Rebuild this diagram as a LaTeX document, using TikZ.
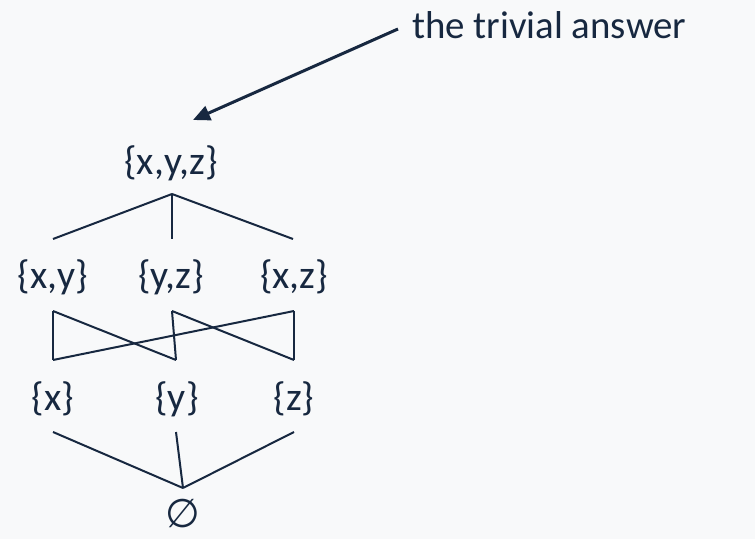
\documentclass[tikz,border=0pt]{standalone}
\usepackage{fontspec}
\setmainfont{Carlito}
\newfontfamily\symfont{DejaVu Sans}
\usetikzlibrary{arrows.meta}
\definecolor{ink}{RGB}{23,40,64}
\definecolor{bg}{RGB}{248,249,250}
\begin{document}
\begin{tikzpicture}[x=1bp,y=-1bp,
  lbl/.style={inner sep=0pt, text=ink, font=\fontsize{40}{46}\selectfont},
  edge/.style={draw=ink, line width=2bp}]
\fill[bg] (0,0) rectangle (755,539);
\useasboundingbox (0,0) rectangle (755,539);
% labels
\node[lbl, anchor=base west, font=\fontsize{39}{46}\selectfont] (note) at (412,39) {the trivial answer};
\node[lbl] (xyz) at (171,163) {\{x,y,z\}};
\node[lbl] (xy) at (53,277) {\{x,y\}};
\node[lbl] (yz) at (171,277) {\{y,z\}};
\node[lbl] (xz) at (294,277) {\{x,z\}};
\node[lbl] (x) at (53,399) {\{x\}};
\node[lbl] (y) at (177,399) {\{y\}};
\node[lbl] (z) at (294,399) {\{z\}};
\node[lbl, font=\symfont\fontsize{40}{46}\selectfont, text height=0.74em, text depth=0.06em] (e) at (183,524) {∅};
% connector ends
\coordinate (arrS) at (398,29);
\coordinate (arrT) at (193,120);
\coordinate (t0) at (172,194);
\coordinate (t1) at (53,239);
\coordinate (t2) at (172,239);
\coordinate (t3) at (293,239);
\coordinate (a1) at (53,311);
\coordinate (a2) at (172,311);
\coordinate (a3) at (294,311);
\coordinate (b1) at (53,360);
\coordinate (b2) at (176,360);
\coordinate (b3) at (294,360);
\coordinate (c1) at (53,432);
\coordinate (c2) at (176,432);
\coordinate (c3) at (294,432);
\coordinate (c0) at (183,488);
% connectors
\draw[draw=ink, line width=3bp, -{Triangle[length=17bp,width=15bp]}] (arrS) -- (arrT);
\draw[edge] (t0) -- (t1);
\draw[edge] (t0) -- (t2);
\draw[edge] (t0) -- (t3);
\draw[edge] (a1) -- (b1);
\draw[edge] (a1) -- (b2);
\draw[edge] (a2) -- (b2);
\draw[edge] (a2) -- (b3);
\draw[edge] (a3) -- (b3);
\draw[edge] (a3) -- (b1);
\draw[edge] (c1) -- (c0);
\draw[edge] (c2) -- (c0);
\draw[edge] (c3) -- (c0);
\end{tikzpicture}
\end{document}
